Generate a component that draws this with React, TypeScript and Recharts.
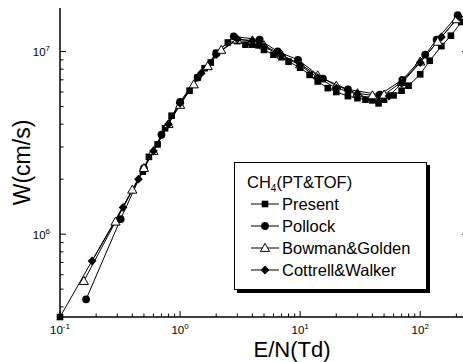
import React from 'react';
import { ComposedChart, Line, XAxis, YAxis, Legend } from 'recharts';

// ---- data (E/N in Td, W in cm/s) ----
const presentX = [0.1, 0.49, 0.55, 0.65, 0.75, 0.85, 1.0, 1.2, 1.4, 1.6, 1.8, 2.0, 2.5, 3.0, 3.5, 4.0, 4.5, 5.0, 6.0, 7.0, 8.0, 10, 12, 14, 17, 20, 25, 30, 35, 40, 45, 50, 60, 70, 80, 100, 120, 150, 180, 220];
const presentW = [3.52e5, 2.2e6, 2.65e6, 3.1e6, 3.8e6, 4.45e6, 5.2e6, 6.1e6, 7.2e6, 8.1e6, 8.7e6, 9.8e6, 1.12e7, 1.14e7, 1.09e7, 1.09e7, 1.08e7, 1.02e7, 9.6e6, 9.3e6, 8.8e6, 8.15e6, 7.45e6, 6.85e6, 6.3e6, 6.0e6, 5.7e6, 5.55e6, 5.45e6, 5.4e6, 5.2e6, 5.45e6, 5.75e6, 6.1e6, 6.5e6, 7.5e6, 8.9e6, 1.07e7, 1.22e7, 1.45e7];

const pollockX = [0.165, 0.32, 0.5, 0.7, 1.0, 1.4, 2.0, 2.8, 4.6, 6.5, 9.6, 15.5, 25, 46, 71, 110, 137, 205];
const pollockW = [4.4e5, 1.21e6, 2.3e6, 3.5e6, 5.3e6, 7.2e6, 9.8e6, 1.21e7, 1.16e7, 1.0e7, 9.0e6, 7.1e6, 6.2e6, 5.8e6, 7.0e6, 9.6e6, 1.16e7, 1.58e7];

const bowmanX = [0.158, 0.29, 0.4, 0.5, 0.6, 0.8, 1.0, 1.3, 1.7, 2.2, 3.0, 4.0, 5.0, 7.0, 10, 14, 20, 30, 40, 50, 70, 100, 140, 200];
const bowmanW = [5.54e5, 1.17e6, 1.75e6, 2.3e6, 2.85e6, 4.0e6, 5.1e6, 6.6e6, 8.3e6, 1.02e7, 1.16e7, 1.15e7, 1.08e7, 9.6e6, 8.5e6, 7.4e6, 6.5e6, 5.9e6, 5.75e6, 5.8e6, 6.8e6, 8.8e6, 1.13e7, 1.5e7];

const cottrellX = [0.185, 0.335, 0.45, 0.6, 0.8, 1.0, 1.5, 2.0, 3.0, 4.0, 5.0, 7.0, 10, 14, 20, 30, 45, 55, 70, 100, 150, 210];
const cottrellW = [7.13e5, 1.4e6, 2.0e6, 2.85e6, 4.0e6, 5.2e6, 7.6e6, 9.6e6, 1.17e7, 1.14e7, 1.06e7, 9.5e6, 8.4e6, 7.2e6, 6.3e6, 5.85e6, 5.3e6, 5.7e6, 6.7e6, 8.7e6, 1.2e7, 1.55e7];

const seriesNames = ['Present', 'Pollock', 'Bowman&Golden', 'Cottrell&Walker'];
const seriesShapes = ['square', 'circle', 'triangle', 'diamond'];

const xDomain = [0.1, 250];
const yDomain = [3.52e5, 1.73e7];
const xTicks = [0.1, 0.2, 0.3, 0.4, 0.5, 0.6, 0.7, 0.8, 0.9, 1, 2, 3, 4, 5, 6, 7, 8, 9, 10, 20, 30, 40, 50, 60, 70, 80, 90, 100, 200];
const yTicks = [4e5, 5e5, 6e5, 7e5, 8e5, 9e5, 1e6, 2e6, 3e6, 4e6, 5e6, 6e6, 7e6, 8e6, 9e6, 1e7];

const xTitle = 'E/N(Td)';
const yTitle = 'W(cm/s)';
const legendTitle = 'CH';
const legendTitleSub = '4';
const legendTitleRest = '(PT&TOF)';

const FONT = '"Liberation Sans", Arial, Helvetica, sans-serif';

const toData = (xs: number[], ys: number[]) => xs.map((x, i) => ({ x, y: ys[i] }));
const seriesData = [
  toData(presentX, presentW),
  toData(pollockX, pollockW),
  toData(bowmanX, bowmanW),
  toData(cottrellX, cottrellW),
];

const isMajor = (v: number) => {
  const l = Math.log10(v);
  return Math.abs(l - Math.round(l)) < 1e-6;
};

const Marker = ({ shape, cx, cy }: { shape: string; cx: number; cy: number }) => {
  if (cx == null || cy == null || isNaN(cx) || isNaN(cy)) return null;
  if (shape === 'square') return <rect x={cx - 3.3} y={cy - 3.3} width={6.6} height={6.6} fill="#000" />;
  if (shape === 'circle') return <circle cx={cx} cy={cy} r={3.9} fill="#000" />;
  if (shape === 'triangle')
    return (
      <polygon
        points={`${cx},${cy - 4.6} ${cx - 4.6},${cy + 3.4} ${cx + 4.6},${cy + 3.4}`}
        fill="#fff"
        stroke="#000"
        strokeWidth={1}
      />
    );
  return <polygon points={`${cx},${cy - 4.4} ${cx + 4.4},${cy} ${cx},${cy + 4.4} ${cx - 4.4},${cy}`} fill="#000" />;
};

const Pow = ({ x, y, exp, anchor }: { x: number; y: number; exp: string; anchor: string }) => (
  <text x={x} y={y} textAnchor={anchor as any} fontFamily={FONT} fontSize={11.5} fill="#000">
    10
    <tspan dy={-5} fontSize={8}>
      {exp}
    </tspan>
  </text>
);

const expOf = (v: number) => String(Math.round(Math.log10(v)));

const BottomTick = (props: any) => {
  const { x, y, payload } = props;
  const v = payload.value;
  const major = isMajor(v);
  return (
    <g>
      <line x1={x} x2={x} y1={y} y2={y - (major ? 6 : 3.5)} stroke="#000" strokeWidth={1} />
      {major && <Pow x={x} y={y + 17} exp={expOf(v)} anchor="middle" />}
    </g>
  );
};

const TopTick = (props: any) => {
  const { x, y, payload } = props;
  const major = isMajor(payload.value);
  return <line x1={x} x2={x} y1={y} y2={y + (major ? 6 : 3.5)} stroke="#000" strokeWidth={1} />;
};

const LeftTick = (props: any) => {
  const { x, y, payload } = props;
  const v = payload.value;
  const major = isMajor(v);
  return (
    <g>
      <line x1={x} x2={x + (major ? 6 : 3.5)} y1={y} y2={y} stroke="#000" strokeWidth={1} />
      {major && <Pow x={x - 10} y={y + 5} exp={expOf(v)} anchor="end" />}
    </g>
  );
};

const RightTick = (props: any) => {
  const { x, y, payload } = props;
  const major = isMajor(payload.value);
  return <line x1={x} x2={x - (major ? 6 : 3.5)} y1={y} y2={y} stroke="#000" strokeWidth={1} />;
};

const renderLegend = () => (
  <div
    style={{
      border: '1.5px solid #000',
      boxShadow: '3px 3px 0 #000',
      background: '#fff',
      width: 193,
      height: 128,
      boxSizing: 'border-box',
      padding: '8px 0 0 12px',
      fontFamily: FONT,
      fontSize: 16.5,
      color: '#000',
      textAlign: 'left',
    }}
  >
    <div style={{ height: 22, lineHeight: '22px', whiteSpace: 'nowrap' }}>
      {legendTitle}
      <span style={{ fontSize: 10, position: 'relative', top: 4 }}>{legendTitleSub}</span>
      {legendTitleRest}
    </div>
    {seriesNames.map((name, i) => (
      <div key={name} style={{ display: 'flex', alignItems: 'center', height: 22, whiteSpace: 'nowrap' }}>
        <svg width={32} height={12} style={{ display: 'block', marginLeft: 2 }}>
          <line x1={2} x2={30} y1={6} y2={6} stroke="#000" strokeWidth={1} />
          <Marker shape={seriesShapes[i]} cx={16} cy={6} />
        </svg>
        <span style={{ marginLeft: 1 }}>{name}</span>
      </div>
    ))}
  </div>
);

export default function App() {
  return (
    <div style={{ position: 'absolute', left: 0, top: 0, width: 463, height: 362, overflow: 'hidden', background: '#fff' }}>
      <ComposedChart width={470} height={362} margin={{ top: 8, right: 0, bottom: 0, left: 0 }}>
        <XAxis
          xAxisId="bottom"
          dataKey="x"
          type="number"
          scale="log"
          domain={xDomain}
          ticks={xTicks}
          interval={0}
          height={45}
          tickSize={0}
          tickMargin={0}
          tickLine={false}
          tick={<BottomTick />}
          axisLine={{ stroke: '#000', strokeWidth: 1.5 }}
          label={(p: any) => {
            const vb = p.viewBox || {};
            return (
              <text x={vb.x + vb.width / 2 + 28} y={vb.y + 40} textAnchor="middle" fontFamily={FONT} fontSize={22} fill="#000">
                {xTitle}
              </text>
            );
          }}
        />
        <XAxis
          xAxisId="top"
          orientation="top"
          dataKey="x"
          type="number"
          scale="log"
          domain={xDomain}
          allowDataOverflow
          ticks={xTicks}
          interval={0}
          height={0}
          tickSize={0}
          tickMargin={0}
          tickLine={false}
          tick={<TopTick />}
          axisLine={{ stroke: '#000', strokeWidth: 1.5 }}
        />
        <YAxis
          yAxisId="left"
          type="number"
          scale="log"
          domain={yDomain}
          ticks={yTicks}
          interval={0}
          width={60}
          tickSize={0}
          tickMargin={0}
          tickLine={false}
          tick={<LeftTick />}
          axisLine={{ stroke: '#000', strokeWidth: 1.5 }}
          label={(p: any) => {
            const vb = p.viewBox || {};
            const cx = vb.x + 22;
            const cy = vb.y + vb.height / 2;
            return (
              <text x={cx} y={cy} transform={`rotate(-90 ${cx} ${cy})`} textAnchor="middle" dominantBaseline="central" fontFamily={FONT} fontSize={23} fill="#000">
                {yTitle}
              </text>
            );
          }}
        />
        <YAxis
          yAxisId="right"
          orientation="right"
          type="number"
          scale="log"
          domain={yDomain}
          allowDataOverflow
          ticks={yTicks}
          interval={0}
          width={2}
          tickSize={0}
          tickMargin={0}
          tickLine={false}
          tick={<RightTick />}
          axisLine={{ stroke: '#000', strokeWidth: 1.5 }}
        />
        <Legend
          content={renderLegend}
          layout="horizontal"
          verticalAlign="middle"
          align="center"
          wrapperStyle={{ position: 'absolute', left: 234, top: 162, width: 'auto', height: 'auto' }}
        />
        {seriesData.map((d, i) => (
          <Line
            key={seriesNames[i]}
            name={seriesNames[i]}
            xAxisId="bottom"
            yAxisId="left"
            data={d}
            dataKey="y"
            type="linear"
            stroke="#000"
            strokeWidth={1}
            isAnimationActive={false}
            dot={(p: any) => <Marker key={`${i}-${p.index}`} shape={seriesShapes[i]} cx={p.cx} cy={p.cy} />}
            activeDot={false}
          />
        ))}
      </ComposedChart>
    </div>
  );
}
